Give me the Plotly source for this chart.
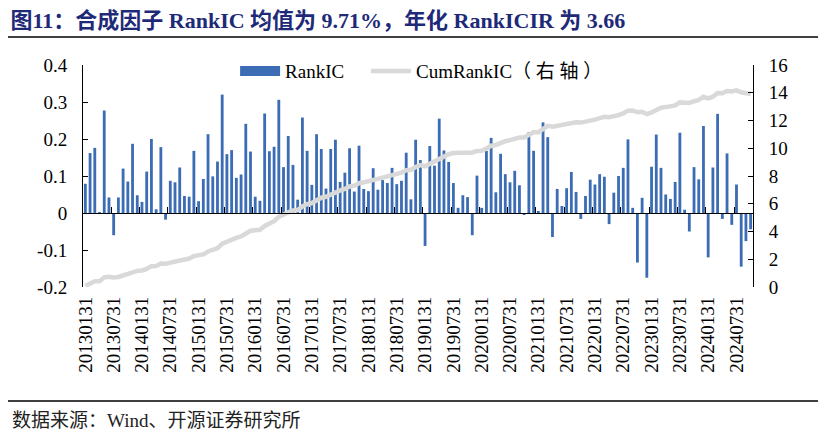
import numpy as np
import plotly.graph_objects as go

# RankIC mensile 2013-01 .. 2024-10
rank_ic = [
    0.079, 0.162, 0.176, 0.002, 0.277, 0.042, -0.060, 0.042, 0.120, 0.085, 0.187, 0.048,
    0.030, 0.112, 0.200, 0.010, 0.178, -0.018, 0.087, 0.083, 0.123, 0.046, 0.044, 0.168,
    0.032, 0.092, 0.213, 0.099, 0.139, 0.320, 0.159, 0.170, 0.095, 0.104, 0.241, 0.166,
    0.044, 0.033, 0.269, 0.167, 0.179, 0.306, 0.124, 0.208, 0.130, 0.036, 0.258, 0.168,
    0.076, 0.213, 0.173, 0.066, 0.173, 0.198, 0.084, 0.109, 0.175, 0.058, 0.182, 0.065,
    0.059, 0.121, 0.063, 0.089, 0.081, 0.122, 0.078, 0.087, 0.163, 0.037, 0.198, 0.143,
    -0.089, 0.181, 0.128, 0.255, 0.169, 0.138, 0.081, 0.014, 0.048, 0.043, -0.060, 0.101,
    0.014, 0.168, 0.203, 0.056, 0.160, 0.105, 0.083, 0.114, 0.075, -0.003, 0.218, 0.168,
    0.003, 0.245, 0.205, -0.065, 0.065, 0.019, 0.067, 0.111, 0.057, -0.016, 0.046, 0.090,
    0.077, 0.105, 0.098, -0.030, 0.055, 0.100, 0.122, 0.199, 0.014, -0.134, 0.041, -0.175,
    0.125, 0.212, 0.122, 0.050, 0.038, 0.084, 0.217, 0.009, -0.050, 0.124, 0.091, 0.235,
    -0.120, 0.123, 0.268, -0.016, 0.161, -0.032, 0.077, -0.145, -0.076, -0.044,
]
# CumRankIC = somma cumulata dei RankIC
cum_rank_ic = np.cumsum(rank_ic)

tick_labels = [
    "20130131", "20130731", "20140131", "20140731", "20150131", "20150731",
    "20160131", "20160731", "20170131", "20170731", "20180131", "20180731",
    "20190131", "20190731", "20200131", "20200731", "20210131", "20210731",
    "20220131", "20220731", "20230131", "20230731", "20240131", "20240731",
]
left_ticks = [0.4, 0.3, 0.2, 0.1, 0, -0.1, -0.2]
left_text = ["0.4", "0.3", "0.2", "0.1", "0", "-0.1", "-0.2"]
right_ticks = [0, 2, 4, 6, 8, 10, 12, 14, 16]

n = len(rank_ic)
x = np.arange(n)
serif = "Times New Roman, Liberation Serif, Noto Sans CJK SC"
blue = "#3C6DB4"
grey = "#D9D9D9"

fig = go.Figure()
fig.add_trace(go.Bar(x=x, y=rank_ic, width=0.6, marker=dict(color=blue, line=dict(width=0)),
                     name="RankIC", showlegend=False))
fig.add_trace(go.Scatter(x=x, y=cum_rank_ic, yaxis="y2", mode="lines",
                         line=dict(color=grey, width=4.5), name="CumRankIC（右轴）", showlegend=False))
# voci di legenda (una legenda per voce, per piazzarle come nell'originale)
fig.add_trace(go.Scatter(x=[None], y=[None], mode="lines", line=dict(color=blue, width=10),
                         name="RankIC", legend="legend"))
fig.add_trace(go.Scatter(x=[None], y=[None], mode="lines", line=dict(color=grey, width=4.5),
                         name="CumRankIC（ 右 轴 ）", legend="legend2"))
# asse orizzontale sullo zero
fig.add_trace(go.Scatter(x=[None], y=[None], xaxis="x2", showlegend=False))

leg = dict(orientation="h", y=1.058, xanchor="left", yanchor="top",
           bgcolor="rgba(0,0,0,0)", font=dict(size=19), itemwidth=40)

fig.update_layout(
    width=829, height=436,
    margin=dict(l=75, r=84, t=57, b=157),
    paper_bgcolor="white", plot_bgcolor="white",
    font=dict(family=serif, size=16, color="black"),
    title=dict(text="<b>图11：合成因子 RankIC 均值为 9.71%，年化 RankICIR 为 3.66</b>",
               xref="container", yref="container", x=0.003, y=0.972,
               xanchor="left", yanchor="middle",
               font=dict(family=serif, size=22, color="#1E2A78")),
    xaxis=dict(range=[-0.5, n - 0.5], tickvals=list(range(0, n, 6))[:len(tick_labels)],
               ticktext=tick_labels, tickangle=-90, ticks="", showline=False,
               showgrid=False, zeroline=False, tickfont=dict(size=19), ticklabelstandoff=5),
    xaxis2=dict(overlaying="x", anchor="free", position=1 / 3, range=[-0.5, n - 0.5],
                tickvals=[i - 0.5 for i in range(6, n, 6)], ticks="inside", ticklen=6,
                tickcolor="black", showticklabels=False, showline=True, linecolor="black",
                linewidth=1, showgrid=False, zeroline=False),
    yaxis=dict(range=[-0.2, 0.4], tickvals=left_ticks, ticktext=left_text, ticks="inside",
               ticklen=5, tickcolor="black", showline=True, linecolor="black", linewidth=1,
               showgrid=False, zeroline=False, tickfont=dict(size=19), ticklabelstandoff=11),
    yaxis2=dict(range=[0, 16], tickvals=right_ticks, overlaying="y", side="right",
                ticks="inside", ticklen=5, tickcolor="black", showline=True, linecolor="black",
                linewidth=1, showgrid=False, zeroline=False, tickfont=dict(size=19),
                ticklabelstandoff=11),
    legend=dict(leg, x=0.227),
    legend2=dict(leg, x=0.4224),
    shapes=[
        dict(type="line", xref="paper", yref="paper", x0=-0.112, x1=1.097, y0=1.126, y1=1.126,
             line=dict(color="black", width=1.5)),
        dict(type="line", xref="paper", yref="paper", x0=-0.112, x1=1.097, y0=-0.5135, y1=-0.5135,
             line=dict(color="black", width=1.5)),
    ],
    annotations=[
        dict(text="数据来源：Wind、开源证券研究所", xref="paper", yref="paper", x=-0.109, y=-0.6,
             xanchor="left", yanchor="middle", showarrow=False,
             font=dict(family=serif, size=19, color="#222222")),
    ],
)

fig.write_html("out.html")
